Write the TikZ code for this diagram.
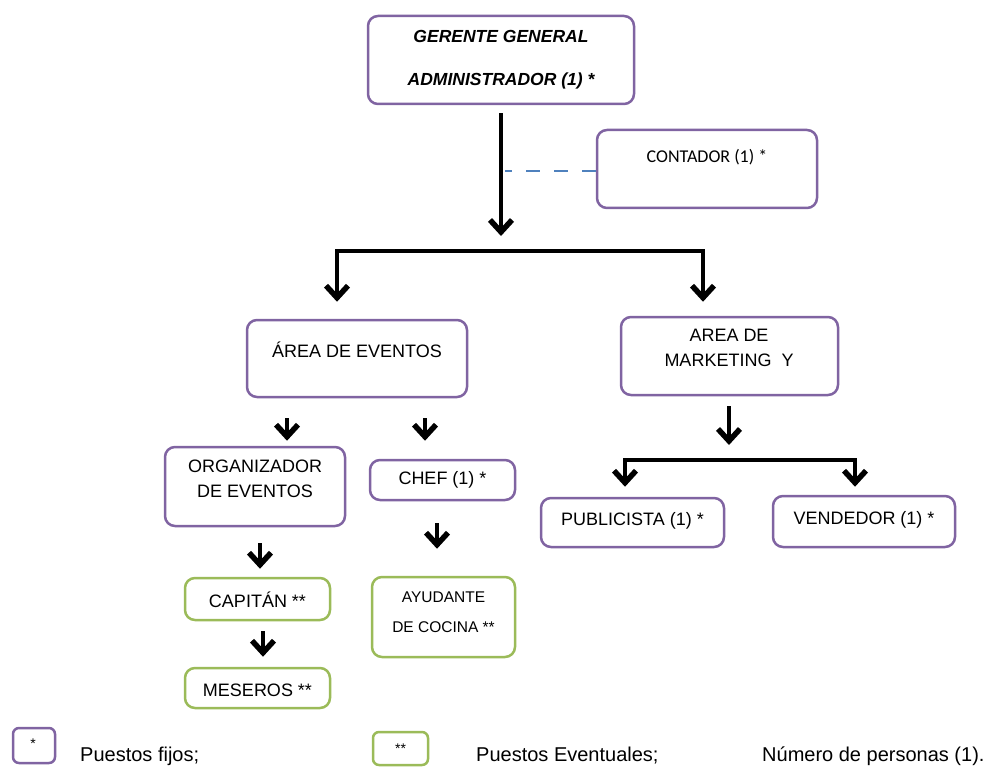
\documentclass[tikz,border=0pt]{standalone}
\usepackage{fontspec}
\setmainfont{Liberation Sans}
\newfontfamily\calib{Carlito}
\usetikzlibrary{arrows.meta}
\definecolor{fixc}{HTML}{8064A2}
\definecolor{evc}{HTML}{9BBB59}
\definecolor{dashc}{HTML}{4F81BD}
\newcommand\bxf{\fontsize{18}{25}\selectfont}
\begin{document}
\begin{tikzpicture}[x=1pt,y=-1pt,
  fbox/.style 2 args={draw=fixc,line width=2.5pt,rounded corners=10pt,minimum width=#1,minimum height=#2,inner sep=0pt,fill=white},
  ebox/.style 2 args={draw=evc,line width=2.5pt,rounded corners=10pt,minimum width=#1,minimum height=#2,inner sep=0pt,fill=white},
  txt/.style={align=center,inner sep=0pt,font=\bxf},
  arr/.style={line width=4pt,line join=miter,-{Straight Barb[length=12pt,width=22pt,line width=5.5pt]}},
  dashln/.style={draw=dashc,line width=1.3pt,dash pattern=on 14pt off 14pt}
]
\useasboundingbox (0,0) rectangle (1008,767);

% boxes
\node[fbox={266pt}{88pt}] (gg) at (501,60) {};
\node[fbox={220pt}{78pt}] (cont) at (707,169) {};
\node[fbox={220pt}{77pt}] (ev) at (357,358.5) {};
\node[fbox={217pt}{78pt}] (mk) at (729.5,356) {};
\node[fbox={180pt}{79pt}] (org) at (255,486.5) {};
\node[fbox={145pt}{40pt}] (chef) at (442.5,480) {};
\node[ebox={145pt}{42pt}] (cap) at (257.5,599) {};
\node[ebox={143pt}{80pt}] (ayu) at (443.5,617) {};
\node[ebox={145pt}{40pt}] (mes) at (257.5,688) {};
\node[fbox={183pt}{49pt}] (pub) at (632.5,522.5) {};
\node[fbox={182pt}{51pt}] (ven) at (864,521.5) {};

% texts
\node[txt,font=\fontsize{17.5}{43}\selectfont\bfseries\itshape] (ggt) at (501,60) {GERENTE GENERAL\\ADMINISTRADOR (1) *};
\node[txt,font=\calib\fontsize{18}{22}\selectfont] (contt) at (707,157) {CONTADOR (1) *};
\node[txt] (evt) at (357,350) {ÁREA DE EVENTOS};
\node[txt] (mkt) at (729,348) {AREA DE\\MARKETING\ \ Y};
\node[txt] (orgt) at (255,479) {ORGANIZADOR\\DE EVENTOS};
\node[txt] (cheft) at (442.5,480) {CHEF (1) *};
\node[txt] (capt) at (257.5,600) {CAPITÁN **};
\node[txt,font=\fontsize{15.5}{30}\selectfont] (ayut) at (443.5,612) {AYUDANTE\\DE COCINA **};
\node[txt] (mest) at (257.5,690) {MESEROS **};
\node[txt] (pubt) at (632.5,521) {PUBLICISTA (1) *};
\node[txt] (vent) at (864,520) {VENDEDOR (1) *};

% junction coordinates
\coordinate (j0) at (501,251);
\coordinate (jl) at (337,251);
\coordinate (jr) at (703,251);
\coordinate (k0) at (729,460);
\coordinate (kl) at (625,460);
\coordinate (kr) at (855,460);
\coordinate (a1) at (287,418);
\coordinate (a2) at (425,418);
\coordinate (a3) at (260,543);
\coordinate (a4) at (437,523);
\coordinate (a5) at (263,631);

% connectors
\draw[dashln] ([yshift=-2pt]cont.west) -- ([yshift=-2pt,xshift=4pt]cont.west -| gg.south);
\draw[arr] ([yshift=-8pt]gg.south) -- ([yshift=15pt]j0);
\draw[arr] (j0) -- (jl) -- ([yshift=17pt]ev.north -| jl);
\draw[arr] (j0) -- (jr) -- ([yshift=14pt]mk.north -| jr);
\draw[arr] ([yshift=-10pt]mk.south -| k0) -- ([yshift=15pt]k0);
\draw[arr] (k0) -- (kl) -- ([yshift=10pt]pub.north -| kl);
\draw[arr] (k0) -- (kr) -- ([yshift=8pt]ven.north -| kr);
\draw[arr] (a1) -- ([yshift=5pt]org.north -| a1);
\draw[arr] (a2) -- ([yshift=18pt]chef.north -| a2);
\draw[arr] (a3) -- ([yshift=8pt]cap.north -| a3);
\draw[arr] (a4) -- ([yshift=27pt]ayu.north -| a4);
\draw[arr] (a5) -- ([yshift=10pt]mes.north -| a5);

% legend
\node[fbox={42pt}{35pt},rounded corners=6pt] (lg1) at (34,745.5) {};
\node[txt,font=\fontsize{14}{16}\selectfont] (lg1t) at (33,744) {*};
\node[ebox={55pt}{33pt},rounded corners=6pt] (lg2) at (400.5,748.5) {};
\node[txt,font=\fontsize{14}{16}\selectfont] (lg2t) at (400.5,749) {**};
\node[inner sep=0pt,anchor=base west,font=\fontsize{20}{24}\selectfont] (l1) at (80,761) {Puestos fijos;};
\node[inner sep=0pt,anchor=base west,font=\fontsize{20}{24}\selectfont] (l2) at (476,761) {Puestos Eventuales;};
\node[inner sep=0pt,anchor=base west,font=\fontsize{20}{24}\selectfont] (l3) at (762,761) {Número de personas (1).};
\end{tikzpicture}
\end{document}
